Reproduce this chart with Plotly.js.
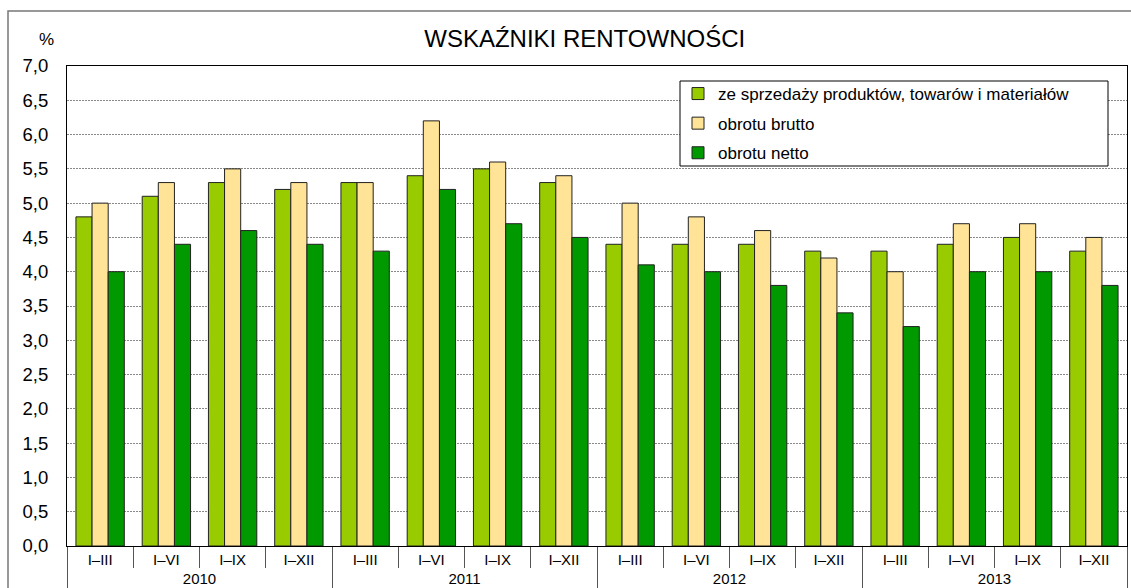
<!DOCTYPE html>
<html>
<head>
<meta charset="utf-8">
<script src="https://cdn.plot.ly/plotly-3.0.1.min.js"></script>
<style>html,body{margin:0;padding:0;background:#fff;}#chart{width:1131px;height:588px;}</style>
</head>
<body>
<div id="chart"></div>
<script>
const years = ['2010', '2011', '2012', '2013'];
const periods = ['I–III', 'I–VI', 'I–IX', 'I–XII'];
const seriesNames = ['ze sprzedaży produktów, towarów i materiałów', 'obrotu brutto', 'obrotu netto'];
const sprzedaz = [4.8, 5.1, 5.3, 5.2, 5.3, 5.4, 5.5, 5.3, 4.4, 4.4, 4.4, 4.3, 4.3, 4.4, 4.5, 4.3];
const brutto   = [5.0, 5.3, 5.5, 5.3, 5.3, 6.2, 5.6, 5.4, 5.0, 4.8, 4.6, 4.2, 4.0, 4.7, 4.7, 4.5];
const netto    = [4.0, 4.4, 4.6, 4.4, 4.3, 5.2, 4.7, 4.5, 4.1, 4.0, 3.8, 3.4, 3.2, 4.0, 4.0, 3.8];
const colors = ['#99CC00', '#FFE396', '#009900'];

const xYears = [], xPeriods = [];
years.forEach(y => periods.forEach(p => { xYears.push(y); xPeriods.push(p); }));

const font = 'Liberation Sans, Arial, sans-serif';
const data = [sprzedaz, brutto, netto].map((vals, i) => ({
  type: 'bar',
  x: [xYears, xPeriods],
  y: vals,
  name: seriesNames[i],
  legendgroup: 'g' + i,
  marker: {color: colors[i], line: {color: '#222', width: 1}},
  hoverinfo: 'y'
}));

const T = 66, B = 546, L = 67, R = 1127;
const px = v => (v - L) / (R - L);
const py = v => (B - v) / (B - T);

const layout = {
  width: 1131, height: 588,
  margin: {l: L, r: 1131 - R, t: T, b: 588 - B},
  paper_bgcolor: '#fff', plot_bgcolor: '#fff',
  font: {family: font, size: 15, color: '#000'},
  separators: ', ',
  barmode: 'group',
  bargap: 0.27,
  bargroupgap: 0,
  showlegend: true,
  title: {text: 'WSKAŹNIKI RENTOWNOŚCI', font: {family: font, size: 24, color: '#000'},
          x: 0.517, xref: 'container', xanchor: 'center', y: 1 - 39/588, yref: 'container', yanchor: 'middle'},
  legend: {x: px(678), y: py(76), xanchor: 'left', yanchor: 'top',
           bgcolor: 'rgba(0,0,0,0)', borderwidth: 0,
           traceorder: 'grouped', tracegroupgap: 4.5,
           font: {family: font, size: 17, color: '#000'}, itemwidth: 30},
  xaxis: {
    type: 'multicategory',
    showline: true, linecolor: '#000', linewidth: 1, mirror: true,
    ticks: 'outside', tickson: 'boundaries', ticklen: 21, tickcolor: '#555', tickwidth: 1,
    showdividers: true, dividercolor: '#555', dividerwidth: 1,
    tickfont: {family: font, size: 15, color: '#000'},
    showgrid: false, automargin: false
  },
  yaxis: {
    range: [0, 7], dtick: 0.5, tick0: 0, tickformat: '.1f',
    showline: true, linecolor: '#000', linewidth: 1, mirror: true,
    showgrid: true, gridcolor: '#888', gridwidth: 1, griddash: '2px,1px',
    zeroline: false, ticks: '', ticklabelstandoff: 14,
    tickfont: {family: font, size: 18.5, color: '#000'}, automargin: false
  },
  annotations: [{text: '%', xref: 'paper', yref: 'paper', x: px(46), y: py(40),
                 xanchor: 'center', yanchor: 'middle', showarrow: false, font: {family: font, size: 17, color: '#000'}}],
  shapes: [
    {type: 'rect', xref: 'paper', yref: 'paper', x0: px(8), x1: 1.2, y0: -0.3, y1: py(11),
     line: {color: '#777', width: 1.5}, fillcolor: 'rgba(0,0,0,0)', layer: 'below'},
    {type: 'rect', xref: 'paper', yref: 'paper', x0: px(680), x1: px(1108), y0: py(166), y1: py(81),
     line: {color: '#000', width: 1}, fillcolor: '#fff', layer: 'above'}
  ]
};

Plotly.newPlot('chart', data, layout, {displayModeBar: false, staticPlot: true});
</script>
</body>
</html>
